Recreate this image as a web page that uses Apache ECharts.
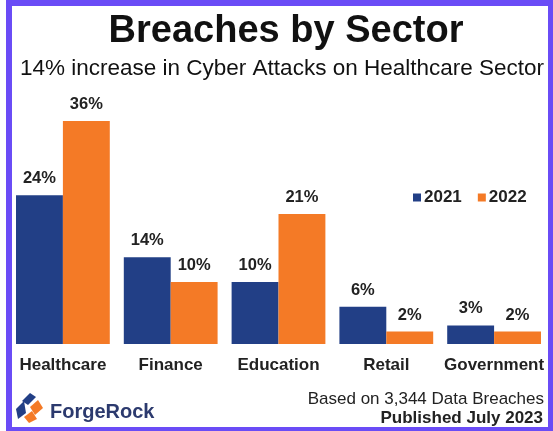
<!DOCTYPE html>
<html>
<head>
<meta charset="utf-8">
<script src="https://cdn.jsdelivr.net/npm/echarts@6/dist/echarts.min.js"></script>
<style>
  html, body { margin: 0; padding: 0; background: #fff; }
  #main { width: 553px; height: 431px; }
</style>
</head>
<body>
<div id="main"></div>
<script>
var sectors = ['Healthcare', 'Finance', 'Education', 'Retail', 'Government'];
var values2021 = [24, 14, 10, 6, 3];
var values2022 = [36, 10, 21, 2, 2];
var seriesNames = ['2021', '2022'];

var navy = '#223f86';
var orange = '#f47a26';
var frame = '#6a4cf6';
var font = 'Liberation Sans, Arial, sans-serif';

var myChart = echarts.init(document.getElementById('main'));

var labelStyle = {
	show: true,
	position: 'top',
	distance: 8,
	formatter: '{c}%',
	fontFamily: font,
	fontWeight: 'bold',
	fontSize: 16.5,
	color: '#222'
};

var option = {
	backgroundColor: '#fff',
	animation: false,
	title: [
		{
			text: 'Breaches by Sector',
			left: 281,
			top: 8,
			textAlign: 'center',
			textStyle: { fontFamily: font, fontWeight: 'bold', fontSize: 38, color: '#111' }
		},
		{
			text: '14% increase in Cyber Attacks on Healthcare Sector',
			left: 15,
			top: 52,
			textStyle: { fontFamily: font, fontWeight: 'normal', fontSize: 22.5, color: '#111' }
		}
	],
	legend: {
		data: seriesNames,
		left: 408,
		top: 184,
		itemWidth: 8,
		itemHeight: 8,
		itemGap: 16,
		icon: 'rect',
		textStyle: { fontFamily: font, fontWeight: 'bold', fontSize: 17, color: '#222', padding: [0, 0, 0, -2] }
	},
	grid: {
		left: 9,
		right: 5,
		top: 121,
		bottom: 87
	},
	xAxis: {
		type: 'category',
		data: sectors,
		axisLine: { show: false },
		axisTick: { show: false },
		axisLabel: {
			interval: 0,
			margin: 13,
			fontFamily: font,
			fontWeight: 'bold',
			fontSize: 17,
			color: '#222'
		}
	},
	yAxis: {
		type: 'value',
		min: 0,
		max: 36,
		show: false,
		splitLine: { show: false }
	},
	series: [
		{
			name: seriesNames[0],
			type: 'bar',
			data: values2021,
			itemStyle: { color: navy },
			barGap: 0,
			barCategoryGap: '13%',
			label: labelStyle
		},
		{
			name: seriesNames[1],
			type: 'bar',
			data: values2022,
			itemStyle: { color: orange },
			barGap: 0,
			barCategoryGap: '13%',
			label: labelStyle
		}
	],
	graphic: [
		// frame
		{ type: 'rect', shape: { x: 6, y: 0, width: 6, height: 431 }, style: { fill: frame }, z: 100 },
		{ type: 'rect', shape: { x: 6, y: 0, width: 547, height: 6 }, style: { fill: frame }, z: 100 },
		{ type: 'rect', shape: { x: 548, y: 0, width: 5, height: 431 }, style: { fill: frame }, z: 100 },
		{ type: 'rect', shape: { x: 6, y: 427, width: 547, height: 4 }, style: { fill: frame }, z: 100 },
		// logo mark
		{
			type: 'polygon',
			shape: { points: [[22, 401], [30, 393], [36, 397], [28, 405]] },
			style: { fill: navy }
		},
		{
			type: 'polygon',
			shape: { points: [[16, 409], [24, 401], [26, 413], [18, 419]] },
			style: { fill: navy }
		},
		{
			type: 'polygon',
			shape: { points: [[30, 407], [38, 400], [43, 408], [35, 415]] },
			style: { fill: orange }
		},
		{
			type: 'polygon',
			shape: { points: [[24, 417], [32, 411], [37, 419], [29, 423]] },
			style: { fill: orange }
		},
		{
			type: 'text',
			left: 50,
			top: 402,
			style: { text: 'ForgeRock', fontFamily: font, fontWeight: 'bold', fontSize: 20, fill: '#2c3a6e' }
		},
		{
			type: 'text',
			right: 9,
			top: 391,
			style: { text: 'Based on 3,344 Data Breaches', fontFamily: font, fontSize: 17, fill: '#222' }
		},
		{
			type: 'text',
			right: 10,
			top: 410,
			style: { text: 'Published July 2023', fontFamily: font, fontWeight: 'bold', fontSize: 17, fill: '#222' }
		}
	]
};

myChart.setOption(option);
</script>
</body>
</html>
